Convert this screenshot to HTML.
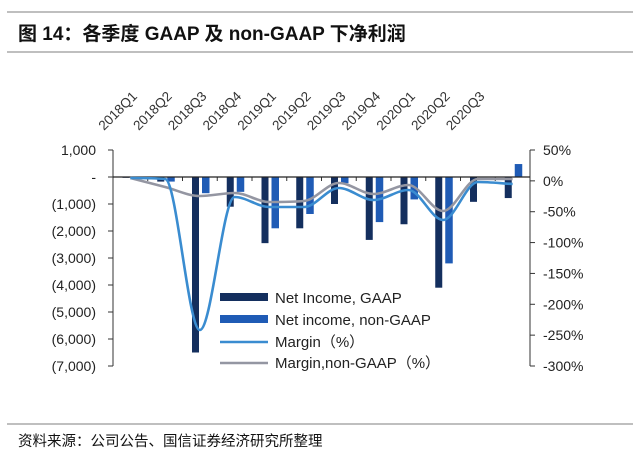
<!DOCTYPE html>
<html><head><meta charset="utf-8"><style>
body{margin:0;background:#fff;width:640px;height:463px;overflow:hidden}
svg{font-family:"Liberation Sans","Noto Sans CJK SC",sans-serif}
</style></head><body>
<svg width="640" height="463" viewBox="0 0 640 463" xmlns="http://www.w3.org/2000/svg">
<line x1="7" y1="12" x2="633" y2="12" stroke="#999" stroke-width="1.2"/>
<text x="18" y="40" font-size="19" font-weight="bold" fill="#111" font-family="'Liberation Sans','Noto Sans CJK SC',sans-serif">图 14：各季度 GAAP 及 non-GAAP 下净利润</text>
<line x1="7" y1="52" x2="633" y2="52" stroke="#999" stroke-width="1.2"/>
<line x1="7" y1="424" x2="633" y2="424" stroke="#999" stroke-width="1.2"/>
<text x="18" y="446" font-size="14.5" fill="#111">资料来源：公司公告、国信证券经济研究所整理</text>
<g id="xl" font-size="13.5" fill="#333"></g>
<line x1="113" y1="150" x2="113" y2="366" stroke="#333"/>
<line x1="530" y1="150" x2="530" y2="366" stroke="#333"/>
<g id="ticks" stroke="#333"></g>
<g id="bars"></g>
<line x1="113" y1="177" x2="530" y2="177" stroke="#222" stroke-width="1.2"/>
<path id="l2" fill="none" stroke="#9496a2" stroke-width="2.6"/>
<path id="l1" fill="none" stroke="#3a8cd0" stroke-width="2.6"/>
<g id="yl" font-size="14" fill="#222"></g>
<g font-size="15" fill="#222">
<rect x="220" y="293" width="48" height="8" fill="#142f5e"/><text x="275" y="303">Net Income, GAAP</text>
<rect x="220" y="315" width="48" height="8" fill="#1f5bb5"/><text x="275" y="325">Net income, non-GAAP</text>
<line x1="220" y1="342" x2="268" y2="342" stroke="#3a8cd0" stroke-width="2.6"/><text x="275" y="347">Margin（%）</text>
<line x1="220" y1="363" x2="268" y2="363" stroke="#9496a2" stroke-width="2.6"/><text x="275" y="368">Margin,non-GAAP（%）</text>
</g>
</svg>
<script>
const NS="http://www.w3.org/2000/svg";
function el(p,t,a,txt){const e=document.createElementNS(NS,t);for(const k in a)e.setAttribute(k,a[k]);if(txt)e.textContent=txt;document.getElementById(p).appendChild(e);}
const w=417/12,x0=113;
const dark=[-30,-170,-6500,-1100,-2450,-1900,-1000,-2330,-1750,-4100,-920,-780];
const light=[-20,-170,-600,-550,-1900,-1370,-230,-1670,-830,-3200,-20,480];
const yv=v=>177-v*0.027;
for(let i=0;i<12;i++){
 const bx=x0+i*w;
 el("bars","rect",{x:bx+9.5,y:Math.min(yv(dark[i]),177),width:7,height:Math.abs(dark[i]*0.027),fill:"#142f5e"});
 el("bars","rect",{x:bx+19.5,y:Math.min(yv(light[i]),177),width:7.5,height:Math.abs(light[i]*0.027),fill:"#1f5bb5"});
 el("ticks","line",{x1:bx,y1:177,x2:bx,y2:181});
}
const labs=["2018Q1","2018Q2","2018Q3","2018Q4","2019Q1","2019Q2","2019Q3","2019Q4","2020Q1","2020Q2","2020Q3"];
labs.forEach((l,i)=>{const x=104+i*w,y=131;el("xl","text",{x:x,y:y,transform:`rotate(-45 ${x} ${y})`},l);});
const ll=["1,000","-","(1,000)","(2,000)","(3,000)","(4,000)","(5,000)","(6,000)","(7,000)"];
ll.forEach((l,i)=>{const y=150+i*27;el("ticks","line",{x1:108,y1:y,x2:113,y2:y});el("yl","text",{x:96,y:y+5,"text-anchor":"end"},l);});
const rl=["50%","0%","-50%","-100%","-150%","-200%","-250%","-300%"];
rl.forEach((l,i)=>{const y=150+i*(216/7);el("ticks","line",{x1:530,y1:y,x2:535,y2:y});el("yl","text",{x:543,y:y+5},l);});
function smooth(ys){
 const n=ys.length,xs=ys.map((_,i)=>x0+w/2+i*w);
 const d=[];for(let i=0;i<n-1;i++)d.push((ys[i+1]-ys[i])/w);
 const m=[d[0]];for(let i=1;i<n-1;i++){m.push(d[i-1]*d[i]<=0?0:(d[i-1]+d[i])/2);}m.push(d[n-2]);
 for(let i=0;i<n-1;i++){if(d[i]===0){m[i]=0;m[i+1]=0;continue;}const a=m[i]/d[i],b=m[i+1]/d[i],s=a*a+b*b;if(s>9){const t=3/Math.sqrt(s);m[i]=t*a*d[i];m[i+1]=t*b*d[i];}}
 let p=`M${xs[0]},${ys[0]}`;
 for(let i=0;i<n-1;i++){const h=w/3;p+=` C${xs[i]+h},${ys[i]+m[i]*h} ${xs[i+1]-h},${ys[i+1]-m[i+1]*h} ${xs[i+1]},${ys[i+1]}`;}
 return p;}
document.getElementById("l1").setAttribute("d",smooth([178,179,330,197,207,207,188,200,190,220,182,184]));
document.getElementById("l2").setAttribute("d",smooth([178,187,196,193,202,201,183,194,185,211,179,179]));
</script>
</body></html>
